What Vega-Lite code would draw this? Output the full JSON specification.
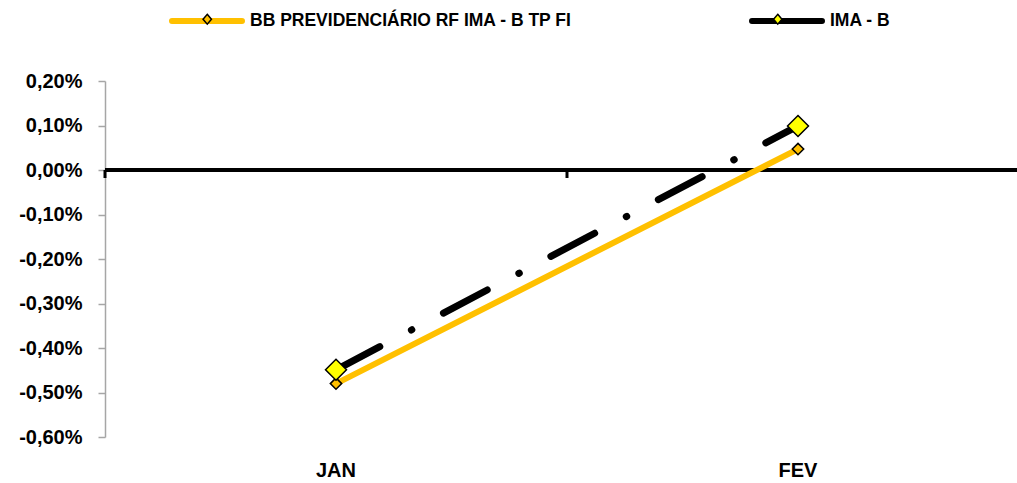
{
  "$schema": "https://vega.github.io/schema/vega-lite/v6.json",
  "width": 912,
  "height": 356,
  "autosize": {"type": "none"},
  "padding": {"left": 105, "top": 81, "right": 0, "bottom": 46},
  "background": "white",
  "config": {
    "view": {"stroke": null},
    "font": "Liberation Sans",
    "axis": {"labelFont": "Liberation Sans", "labelFontWeight": "bold", "labelFontSize": 20, "labelColor": "#000000"},
    "legend": {"labelFont": "Liberation Sans", "labelFontWeight": "bold", "labelFontSize": 17.5, "labelColor": "#000000", "labelLimit": 0, "padding": 0}
  },
  "data": {
    "values": [
      {"mes": "JAN", "serie": "BB PREVIDENCIÁRIO RF IMA - B TP FI", "valor": -0.0048},
      {"mes": "FEV", "serie": "BB PREVIDENCIÁRIO RF IMA - B TP FI", "valor": 0.00047},
      {"mes": "JAN", "serie": "IMA - B", "valor": -0.00449},
      {"mes": "FEV", "serie": "IMA - B", "valor": 0.00099}
    ]
  },
  "layer": [
    {
      "mark": {"type": "rule", "stroke": "black", "strokeWidth": 4},
      "encoding": {"y": {"datum": 0, "type": "quantitative"}}
    },
    {
      "transform": [{"filter": "datum.serie === 'IMA - B'"}],
      "mark": {"type": "tick", "orient": "vertical", "size": 8, "thickness": 3, "color": "black", "yOffset": 4, "opacity": 1},
      "encoding": {
        "x": {"field": "mes", "type": "nominal", "sort": ["JAN", "FEV"], "bandPosition": 0},
        "y": {"datum": 0, "type": "quantitative"}
      }
    },
    {
      "transform": [{"filter": "datum.serie === 'BB PREVIDENCIÁRIO RF IMA - B TP FI'"}],
      "mark": {"type": "line", "strokeWidth": 6, "strokeCap": "round"},
      "encoding": {
        "x": {
          "field": "mes", "type": "nominal", "sort": ["JAN", "FEV"],
          "scale": {"type": "band", "range": [0, 924], "paddingInner": 0, "paddingOuter": 0},
          "axis": {"title": null, "domain": false, "ticks": false, "labelPadding": 33, "labelAngle": 0, "labelAlign": "center", "bandPosition": 0.5}
        },
        "y": {
          "field": "valor", "type": "quantitative",
          "scale": {"domain": [-0.006, 0.002], "nice": false, "zero": false},
          "axis": {
            "title": null,
            "values": [-0.006, -0.005, -0.004, -0.003, -0.002, -0.001, 0, 0.001, 0.002],
            "labelExpr": "replace(replace(format(datum.value, '.2%'), '.', ','), '−', '-')",
            "tickSize": 7, "tickWidth": 1.5, "tickColor": "#a6a6a6",
            "domainColor": "#a6a6a6", "domainWidth": 1.5,
            "gridColor": "#d9d9d9", "gridDash": [7, 5], "gridWidth": 1.5,
            "labelPadding": 16
          }
        },
        "color": {
          "field": "serie", "type": "nominal",
          "scale": {"domain": ["BB PREVIDENCIÁRIO RF IMA - B TP FI", "IMA - B"], "range": ["#FFC000", "#000000"]},
          "legend": {
            "orient": "none", "legendX": 64, "legendY": -98, "direction": "horizontal", "title": null,
            "symbolType": "stroke", "symbolSize": 4900, "symbolStrokeWidth": 6,
            "labelOffset": 5, "columnPadding": 168,
            "encode": {"symbols": {"update": {"strokeCap": {"value": "round"}, "strokeDash": {"value": [1, 0]}}}}
          }
        }
      }
    },
    {
      "transform": [{"filter": "datum.serie === 'BB PREVIDENCIÁRIO RF IMA - B TP FI'"}],
      "mark": {"type": "point", "shape": "diamond", "filled": true, "size": 130, "stroke": "black", "strokeWidth": 1.5, "opacity": 1},
      "encoding": {
        "x": {"field": "mes", "type": "nominal", "sort": ["JAN", "FEV"]},
        "y": {"field": "valor", "type": "quantitative"},
        "fill": {
          "field": "serie", "type": "nominal",
          "scale": {"range": ["#FFC000", "#FFFF00"]},
          "legend": {
            "orient": "none", "legendX": 66.25, "legendY": -98, "direction": "horizontal", "title": null,
            "symbolType": "M0,-0.14L0.12,0L0,0.14L-0.12,0Z", "symbolSize": 4900,
            "symbolStrokeWidth": 1.5, "symbolStrokeColor": "#000000", "symbolOpacity": 1,
            "labelOffset": 0, "columnPadding": 498.5, "labelExpr": "''"
          }
        }
      }
    },
    {
      "transform": [{"filter": "datum.serie === 'IMA - B'"}],
      "mark": {"type": "line", "strokeWidth": 7, "strokeCap": "round", "strokeDash": [49.5, 35.75, 0.5, 35.75]},
      "encoding": {
        "x": {"field": "mes", "type": "nominal", "sort": ["JAN", "FEV"]},
        "y": {"field": "valor", "type": "quantitative"},
        "color": {"field": "serie", "type": "nominal"}
      }
    },
    {
      "transform": [{"filter": "datum.serie === 'IMA - B'"}],
      "mark": {"type": "point", "shape": "diamond", "filled": true, "size": 440, "stroke": "black", "strokeWidth": 1.5, "opacity": 1},
      "encoding": {
        "x": {"field": "mes", "type": "nominal", "sort": ["JAN", "FEV"]},
        "y": {"field": "valor", "type": "quantitative"},
        "fill": {"field": "serie", "type": "nominal"}
      }
    }
  ]
}
